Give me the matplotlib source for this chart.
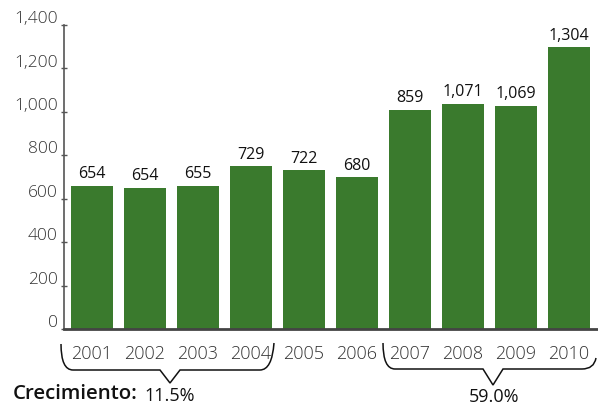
import matplotlib
matplotlib.use("Agg")
import matplotlib.pyplot as plt
from matplotlib.path import Path
from matplotlib.patches import PathPatch
import numpy as np

years = ["2001", "2002", "2003", "2004", "2005", "2006", "2007", "2008", "2009", "2010"]
bar_heights = [660, 651, 660, 749, 730, 698, 1009, 1037, 1028, 1298]
value_labels = ["654", "654", "655", "729", "722", "680", "859", "1,071", "1,069", "1,304"]
y_ticks = [0, 200, 400, 600, 800, 1000, 1200, 1400]
growth_labels = ["11.5%", "59.0%"]

plt.rcParams['font.family'] = ['Open Sans', 'DejaVu Sans']

W, H = 598, 405
fig = plt.figure(figsize=(W / 100, H / 100), dpi=100)
ax = fig.add_axes([64 / W, 1 - 329 / H, (598 - 64) / W, (329 - 25) / H])

green = "#3a7a2d"
x = np.arange(len(years))
bars = ax.bar(x, bar_heights, width=0.79, color=green, zorder=2)
ax.set_xlim(-0.528, 9.55)
ax.set_ylim(0, 1400)

for rect, lab in zip(bars, value_labels):
    ax.annotate(lab, (rect.get_x() + rect.get_width() / 2, rect.get_height()),
                xytext=(0, 2.5), textcoords="offset points", ha="center", va="bottom",
                fontsize=11.5, color="#111111", fontweight="medium")

for spine in ["top", "right"]:
    ax.spines[spine].set_visible(False)
ax.spines["left"].set_color("#555555")
ax.spines["left"].set_linewidth(1.2)
ax.spines["bottom"].set_color("#444444")
ax.spines["bottom"].set_linewidth(2.0)

ax.set_yticks(y_ticks)
ax.set_yticklabels([])
ax.tick_params(axis="y", direction="inout", length=5, width=1, color="#555555")
for t in y_ticks:
    ax.annotate(f"{t:,}", (0, t), xycoords=("axes fraction", "data"),
                xytext=(-4.5, -1.5), textcoords="offset points", ha="right", va="bottom",
                fontsize=12.5, color="#333333", fontweight="light")

ax.set_xticks(x)
ax.set_xticklabels([])
ax.tick_params(axis="x", length=0)
for xi, yr in zip(x, years):
    ax.annotate(yr, (xi, 0), xycoords=("data", "axes fraction"),
                xytext=(0, -18), textcoords="offset points", ha="center", va="center",
                fontsize=13, color="#333333", fontweight="light")

# overlay for braces and annotations (pixel coordinates)
ov = fig.add_axes([0, 0, 1, 1])
ov.set_xlim(0, W)
ov.set_ylim(H, 0)
ov.axis("off")
ov.patch.set_alpha(0)

def brace(x0, x1, xtip, ytop, yline, ytip, right_top):
    verts = [(x0, ytop), (x0, yline), (x0 + 12, yline),
             (xtip - 10, yline), (xtip, ytip), (xtip + 10, yline),
             (x1 - 12, yline), (x1, yline), (x1 + 2, right_top)]
    codes = [Path.MOVETO, Path.CURVE3, Path.CURVE3,
             Path.LINETO, Path.LINETO, Path.LINETO,
             Path.LINETO, Path.CURVE3, Path.CURVE3]
    ov.add_patch(PathPatch(Path(verts, codes), fill=False, lw=1.1, ec="#111111"))

brace(61, 272, 170, 344, 370, 383, 343)
brace(383, 594, 493, 343, 369, 385, 358)

ov.text(13, 394, "Crecimiento:", fontsize=14.7, fontweight="semibold", color="#111111",
        ha="left", va="center")
ov.text(170, 396, growth_labels[0], fontsize=13, color="#111111", ha="center", va="center")
ov.text(494, 397, growth_labels[1], fontsize=13, color="#111111", ha="center", va="center")

fig.savefig("out.png", dpi=100)
